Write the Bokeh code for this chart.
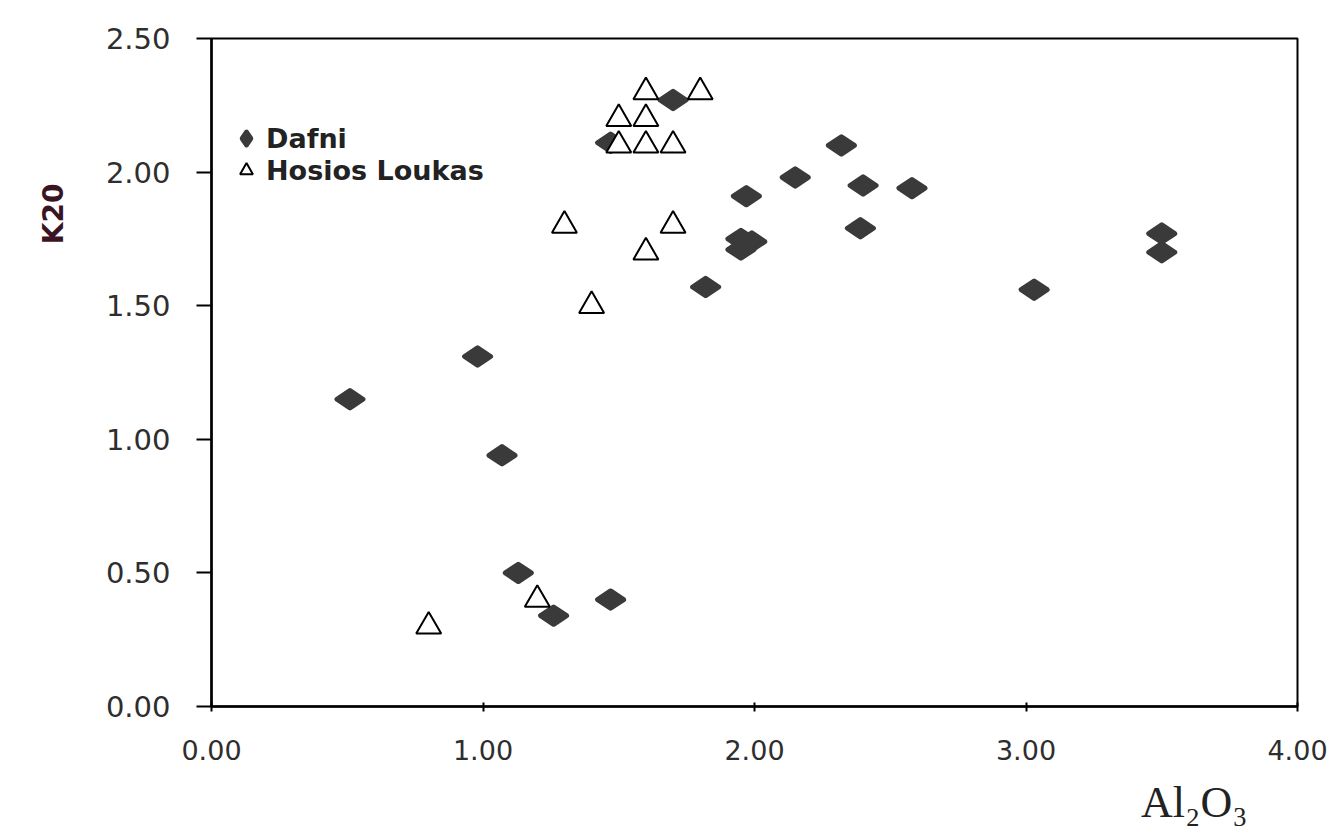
import math
from bokeh.plotting import figure
from bokeh.models import Range1d, FixedTicker, Legend, LegendItem, Title
from bokeh.embed import file_html
from bokeh.resources import INLINE

# ---- data ----
dafni_al2o3 = [0.51, 0.98, 1.07, 1.13, 1.26, 1.47, 1.47, 1.70, 2.32, 2.15, 1.97,
               2.40, 2.58, 2.39, 1.95, 1.99, 1.95, 1.82, 3.03, 3.50, 3.50]
dafni_k2o = [1.15, 1.31, 0.94, 0.50, 0.34, 0.40, 2.11, 2.27, 2.10, 1.98, 1.91,
             1.95, 1.94, 1.79, 1.75, 1.74, 1.71, 1.57, 1.56, 1.77, 1.70]

hosios_al2o3 = [0.80, 1.20, 1.30, 1.40, 1.60, 1.70, 1.50, 1.60, 1.70, 1.50, 1.60, 1.60, 1.80]
hosios_k2o = [0.30, 0.40, 1.80, 1.50, 1.70, 1.80, 2.10, 2.10, 2.10, 2.20, 2.20, 2.30, 2.30]

x_ticks = [0, 1, 2, 3, 4]
x_tick_labels = ["0.00", "1.00", "2.00", "3.00", "4.00"]
y_ticks = [0, 0.5, 1.0, 1.5, 2.0, 2.5]
y_tick_labels = ["0.00", "0.50", "1.00", "1.50", "2.00", "2.50"]

series_names = ["Dafni", "Hosios Loukas"]
x_title = "Al₂O₃"
y_title = "K20"

# ---- figure ----
p = figure(width=1333, height=839, output_backend="svg", toolbar_location=None,
           x_range=Range1d(0, 4), y_range=Range1d(0, 2.5),
           min_border_left=211, min_border_right=36, min_border_top=38, min_border_bottom=131)
p.xgrid.visible = False
p.ygrid.visible = False
p.outline_line_color = "black"
p.outline_line_width = 2
p.background_fill_color = "white"
p.border_fill_color = "white"

tick_font = "DejaVu Sans"
p.xaxis.ticker = FixedTicker(ticks=x_ticks)
p.xaxis.major_label_overrides = {t: l for t, l in zip(x_ticks, x_tick_labels)}
p.yaxis.ticker = FixedTicker(ticks=y_ticks)
p.yaxis.major_label_overrides = {t: l for t, l in zip(y_ticks, y_tick_labels)}

for ax in (p.xaxis[0], p.yaxis[0]):
    ax.axis_line_color = "black"
    ax.axis_line_width = 2.5
    ax.major_tick_line_color = "black"
    ax.major_tick_line_width = 2
    ax.minor_tick_line_color = None
    ax.major_label_text_font = tick_font
    ax.major_label_text_color = "#2e2e2e"

p.xaxis.major_label_text_font_size = "27px"
p.yaxis.major_label_text_font_size = "29px"
p.xaxis.major_tick_out = 5
p.xaxis.major_tick_in = 4
p.xaxis.major_label_standoff = 28
p.yaxis.major_tick_out = 15
p.yaxis.major_tick_in = 0
p.yaxis.major_label_standoff = 26

# ---- data marks ----
r_dafni = p.scatter(dafni_al2o3, dafni_k2o, marker="diamond", size=26, angle=math.pi / 2,
                    fill_color="#3a3a3a", line_color="#3a3a3a", line_width=5, line_join="round")
r_hosios = p.scatter(hosios_al2o3, hosios_k2o, marker="triangle", size=25,
                     fill_color="white", line_color="black", line_width=2)

legend = Legend(items=[LegendItem(label=series_names[0], renderers=[r_dafni]),
                       LegendItem(label=series_names[1], renderers=[r_hosios])],
                location=(15, 520), orientation="vertical")
legend.glyph_width = 40
legend.glyph_height = 32
legend.label_height = 32
legend.spacing = 0
legend.padding = 0
legend.margin = 0
legend.label_standoff = -5
legend.label_text_font = "DejaVu Sans"
legend.label_text_font_style = "bold"
legend.label_text_font_size = "27px"
legend.label_text_color = "#222222"
legend.border_line_alpha = 0
legend.background_fill_alpha = 0
p.add_layout(legend)

# ---- axis titles ----
yt = Title(text=y_title, align="right", offset=145, standoff=66,
           text_font="DejaVu Sans", text_font_style="bold", text_font_size="28px",
           text_color="#3b1424")
p.add_layout(yt, "left")

xt = Title(text=x_title, align="right", offset=50, standoff=26,
           text_font="Liberation Serif", text_font_style="normal", text_font_size="44px",
           text_color="#222222")
p.add_layout(xt, "below")

open("out.html", "w").write(file_html(p, INLINE))
